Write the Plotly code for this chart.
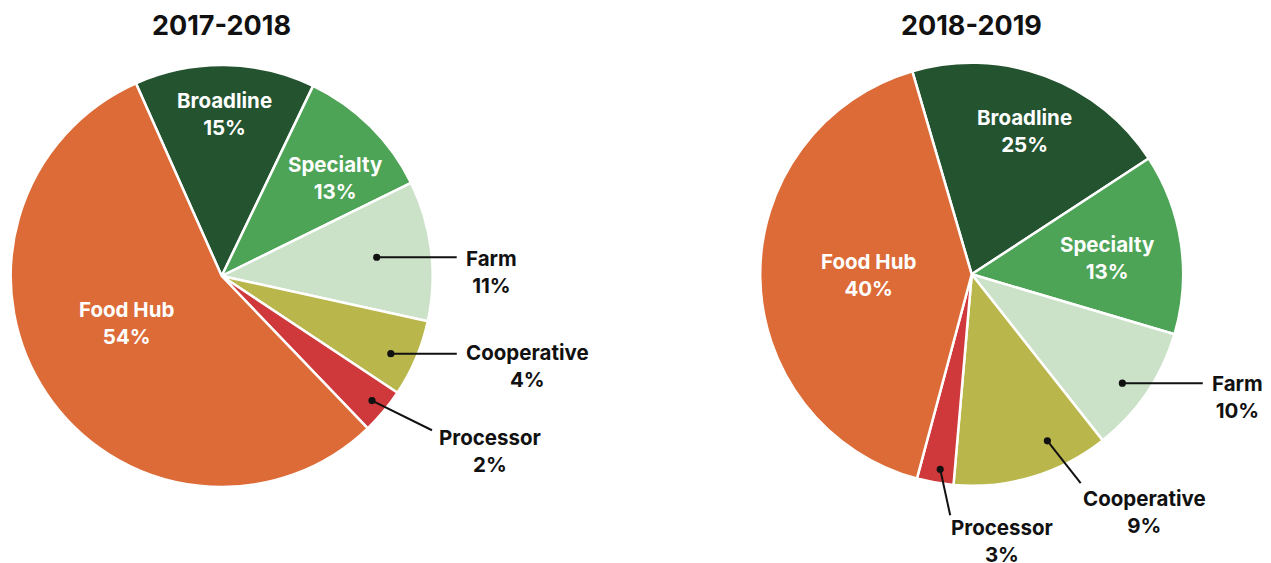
import math
import plotly.graph_objects as go

# ---------------- data ----------------
categories = ["Broadline", "Specialty", "Farm", "Cooperative", "Processor", "Food Hub"]
# slice sizes as drawn
share_2017 = [13.8, 10.6, 10.7, 5.9, 3.5, 55.5]
share_2018 = [20.3, 13.8, 9.8, 12.0, 2.8, 41.3]
# printed percentage labels
label_pct_2017 = [15, 13, 11, 4, 2, 54]
label_pct_2018 = [25, 13, 10, 9, 3, 40]
titles = ["2017-2018", "2018-2019"]

# ---------------- style ----------------
colors = ["#245330", "#4DA356", "#CBE2C9", "#B9B64B", "#CF393B", "#DC6B37"]
W, H = 1271, 563
FONT = "Inter"
LABEL_SIZE = 20.5
TITLE_SIZE = 27

pies = [
    dict(cx=221.7, cy=276.0, r=211.0, rot=-24.0, values=share_2017, pct=label_pct_2017, title=titles[0],
         inside={"Broadline": (0.5, 0.77), "Specialty": (0.62, 0.714), "Food Hub": (0.537, 0.504)},
         outside={"Farm": (0.5, 0.74, 80, 0, 115, 14.5),
                  "Cooperative": (0.58, 0.882, 66, 0, 136.8, 12),
                  "Processor": (0.48, 0.925, 60, 29.7, 118.3, 50.5)}),
    dict(cx=971.7, cy=274.3, r=211.5, rot=-16.3, values=share_2018, pct=label_pct_2018, title=titles[1],
         inside={"Broadline": (0.5, 0.724), "Specialty": (0.53, 0.649), "Food Hub": (0.5, 0.486)},
         outside={"Farm": (0.55, 0.879, 80.4, 0, 115.2, 14.2),
                  "Cooperative": (0.32, 0.865, 33.3, 42.3, 97.3, 71.5),
                  "Processor": (0.42, 0.934, 10, 46, 61.3, 72)}),
]


def px(x):
    return x / W


def py(y):
    return 1 - y / H


fig = go.Figure()
annotations = []
shapes = []

for p in pies:
    cx, cy, r = p["cx"], p["cy"], p["r"]
    fig.add_trace(go.Pie(
        labels=categories, values=p["values"], sort=False, direction="clockwise",
        rotation=p["rot"], textinfo="none", hoverinfo="label+percent",
        marker=dict(colors=colors, line=dict(color="white", width=2.5)),
        domain=dict(x=[px(cx - r), px(cx + r)], y=[py(cy + r), py(cy - r)]),
        showlegend=False,
    ))
    annotations.append(dict(
        x=px(cx), y=py(25.5), xref="paper", yref="paper", text=p["title"], showarrow=False,
        xanchor="center", yanchor="middle",
        font=dict(family=FONT, size=TITLE_SIZE, color="#111111", weight=700)))

    total = sum(p["values"])
    start = p["rot"]
    for cat, v, pct in zip(categories, p["values"], p["pct"]):
        span = 360.0 * v / total
        txt = f"{cat}<br>{pct}%"
        if cat in p["inside"]:
            fr, rf = p["inside"][cat]
            th = math.radians(start + fr * span)
            x = cx + rf * r * math.sin(th)
            y = cy - rf * r * math.cos(th)
            annotations.append(dict(
                x=px(x), y=py(y), xref="paper", yref="paper", text=txt, showarrow=False,
                xanchor="center", yanchor="middle", align="center",
                font=dict(family=FONT, size=LABEL_SIZE, color="white", weight=700)))
        else:
            fr, rf, ldx, ldy, tdx, tdy = p["outside"][cat]
            th = math.radians(start + fr * span)
            x = cx + rf * r * math.sin(th)
            y = cy - rf * r * math.cos(th)
            shapes.append(dict(type="line", xref="paper", yref="paper",
                               x0=px(x), y0=py(y), x1=px(x + ldx), y1=py(y + ldy),
                               line=dict(color="#111111", width=2)))
            shapes.append(dict(type="circle", xref="paper", yref="paper",
                               xsizemode="pixel", ysizemode="pixel",
                               xanchor=px(x), yanchor=py(y), x0=-3.6, x1=3.6, y0=-3.6, y1=3.6,
                               fillcolor="#111111", line=dict(width=0)))
            annotations.append(dict(
                x=px(x + tdx), y=py(y + tdy), xref="paper", yref="paper", text=txt, showarrow=False,
                xanchor="center", yanchor="middle", align="center",
                font=dict(family=FONT, size=LABEL_SIZE, color="#111111", weight=700)))
        start += span

fig.update_layout(
    width=W, height=H, autosize=False,
    margin=dict(l=0, r=0, t=0, b=0),
    paper_bgcolor="white", plot_bgcolor="white",
    annotations=annotations, shapes=shapes,
)

fig.write_html("out.html", config={"displayModeBar": False},
               post_script="document.body.style.margin='0';document.body.style.overflow='hidden';")
